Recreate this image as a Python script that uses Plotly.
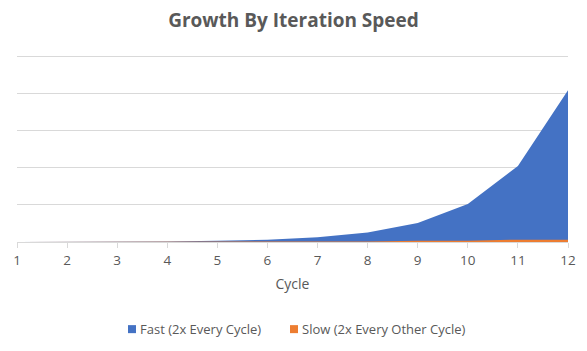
import plotly.graph_objects as go

cycles = [1, 2, 3, 4, 5, 6, 7, 8, 9, 10, 11, 12]
fast = [2, 4, 8, 16, 32, 64, 128, 256, 512, 1024, 2048, 4096]
slow = [2, 2, 4, 4, 8, 8, 16, 16, 32, 32, 64, 64]
y_ticks = [0, 1000, 2000, 3000, 4000, 5000]
series_names = ["Fast (2x Every Cycle)", "Slow (2x Every Other Cycle)"]

fast_color = "#4472C4"
slow_color = "#ED7D31"
text_color = "#595959"
grid_color = "#D9D9D9"
font_family = "Open Sans, Noto Sans, sans-serif"

W, H = 587, 351
Y_MAX = 5100
ML, MR, MB = 17, 19, 109
PH = 185 * Y_MAX / 5000
MT = H - MB - PH
PW = W - ML - MR


def px_x(px):
    return (px - ML) / PW


def px_y(py):
    return (H - MB - py) / PH


fig = go.Figure()
fig.add_trace(go.Scatter(x=cycles, y=fast, mode="lines", fill="tozeroy", name=series_names[0],
                         line=dict(width=0, color=fast_color), fillcolor=fast_color,
                         showlegend=False))
fig.add_trace(go.Scatter(x=cycles, y=slow, mode="lines", fill="tozeroy", name=series_names[1],
                         line=dict(width=0, color=slow_color), fillcolor=slow_color,
                         showlegend=False))

# manual legend (squares + labels)
legend_items = [(128, series_names[0], fast_color), (290, series_names[1], slow_color)]
shapes = []
annotations = []
for sx, label, col in legend_items:
    shapes.append(dict(type="rect", xref="paper", yref="paper",
                       x0=px_x(sx), x1=px_x(sx + 8), y0=px_y(333), y1=px_y(325),
                       fillcolor=col, line=dict(width=0)))
    annotations.append(dict(xref="paper", yref="paper", x=px_x(sx + 10), y=px_y(329),
                            xanchor="left", yanchor="middle", showarrow=False,
                            text=label, font=dict(size=13, color=text_color, family=font_family)))

fig.update_layout(
    width=W, height=H,
    margin=dict(l=ML, r=MR, t=MT, b=MB, pad=0),
    paper_bgcolor="white", plot_bgcolor="white",
    font=dict(family=font_family, color=text_color, size=13),
    title=dict(text="<b>Growth By Iteration Speed</b>", x=0.5, xanchor="center",
               y=1 - 20 / H, yanchor="middle",
               font=dict(size=19, color=text_color, family=font_family)),
    xaxis=dict(range=[1, 12], tickmode="array", tickvals=cycles,
               ticktext=[str(c) for c in cycles],
               showgrid=False, zeroline=False, showline=True, linecolor=grid_color,
               linewidth=1, ticks="outside", ticklen=5, tickcolor=grid_color,
               ticklabelstandoff=1,
               tickfont=dict(size=13.5, color=text_color),
               title=dict(text="Cycle", font=dict(size=14, color=text_color), standoff=10)),
    yaxis=dict(range=[0, Y_MAX], tickvals=y_ticks, showticklabels=False,
               showgrid=True, gridcolor=grid_color, gridwidth=1, zeroline=False),
    shapes=shapes,
    annotations=annotations,
    showlegend=False,
)

fig.write_html("out.html")
